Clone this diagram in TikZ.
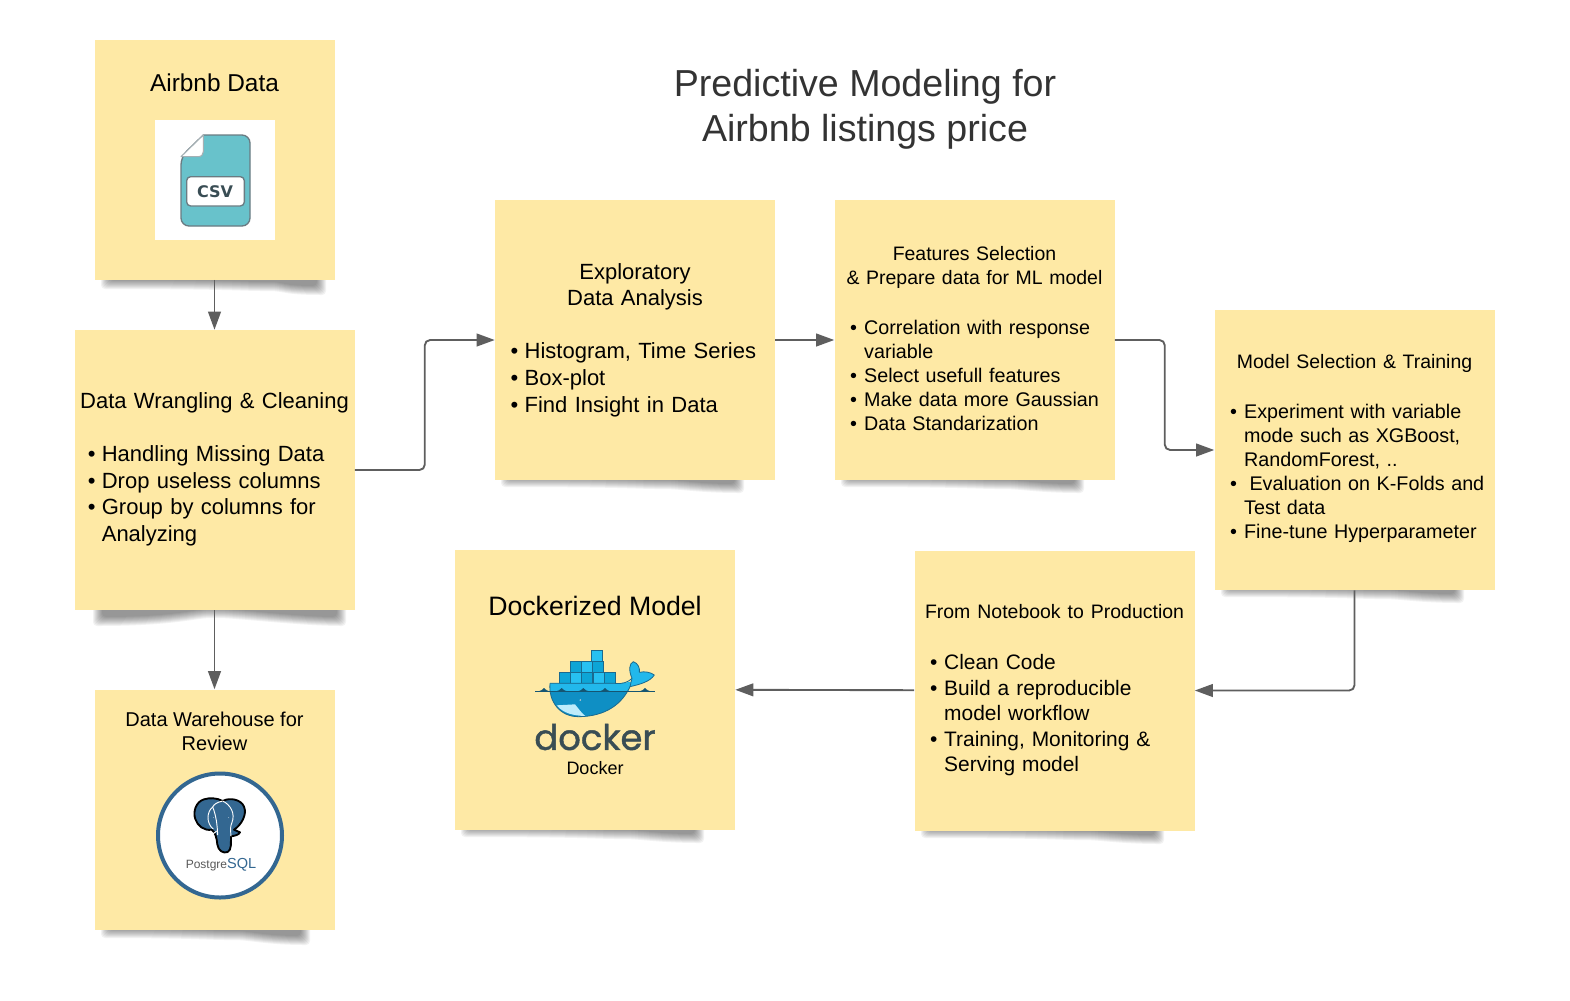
\documentclass[tikz,border=0pt]{standalone}
\usepackage{fontspec}
\setmainfont{Liberation Sans}
\newfontfamily\dockerfont[FakeBold=1.2]{Poppins}
\newfontfamily\csvfont{DejaVu Sans}
\usepackage{tikz}
\usetikzlibrary{arrows.meta}
\definecolor{notefill}{HTML}{FEE9A5}
\definecolor{arrowgrey}{HTML}{5E5E5E}
\definecolor{csvteal}{HTML}{68C2CB}
\definecolor{csvedge}{HTML}{6A7B82}
\definecolor{pgblue}{HTML}{336791}
\definecolor{whaletop}{HTML}{22B8EB}
\definecolor{whalelow}{HTML}{0F8FC4}
\definecolor{whaleedge}{HTML}{1A6A8F}
\definecolor{boxa}{HTML}{0DA5D6}
\definecolor{boxb}{HTML}{27C1F1}
\definecolor{dockertext}{HTML}{394D54}

% Bullet hanging left of the text edge, header centred on the note
\newcommand{\bl}[1]{\leavevmode\llap{\makebox[10.5pt][l]{•}}\mbox{#1}}
\newcommand{\hdr}[1]{\makebox[\linewidth][c]{#1}}
\newcommand{\hdrsmall}[1]{\makebox[\linewidth][c]{\fontsize{14.6}{18}\selectfont #1}}
\newcommand{\lift}[1]{\\[\dimexpr#1-\baselineskip\relax]\mbox{}}

% Soft shadow under a note: bottom, x left, mid, right, depth left, mid, right
\newcommand{\softshadow}[7]{
	\foreach \i in {0,1,...,9}
	\fill[black, opacity=0.05, rounded corners=3]
		({#2+\i-4},#1-3) -- ({#2+\i-4},{#1+#5-\i+4})
		.. controls ({#3-40},{#1+#5-\i+4}) and ({#3-20},{#1+#6-\i+4}) .. ({#3},{#1+#6-\i+4})
		.. controls ({#3+20},{#1+#6-\i+4}) and ({#4-40},{#1+#7-\i+4}) .. ({#4-\i+4},{#1+#7-\i+4})
		-- ({#4-\i+4},#1-3) -- cycle;
}

\begin{document}
\begin{tikzpicture}[
	x=0.75pt, y=-0.75pt,
	stickynote/.style = {fill=notefill, minimum height=210pt, text width=165.5pt, inner xsep=22.25pt, inner ysep=0pt, align=left},
	logonote/.style = {fill=notefill, minimum width=180pt, minimum height=180pt},
	flow/.style = {draw=arrowgrey, line width=1.4pt, rounded corners=4pt, -{Triangle[length=13.5pt, width=9.5pt]}},
	textbig/.style = {font=\fontsize{16.5}{19.9}\selectfont},
	textmid/.style = {font=\fontsize{14.8}{18}\selectfont},
	textprod/.style = {font=\fontsize{15.7}{19.1}\selectfont}
	]
	\useasboundingbox (0,0) rectangle (1570,1000);
	
	% Shadows
	\softshadow{279}{105}{265}{322}{6}{8}{12}
	\softshadow{609}{97}{215}{342}{13}{5}{13}
	\softshadow{929}{105}{230}{306}{5}{7}{12}
	\softshadow{479}{505}{660}{740}{4}{6}{10}
	\softshadow{479}{845}{1000}{1080}{4}{6}{10}
	\softshadow{589}{1225}{1380}{1460}{4}{6}{10}
	\softshadow{829}{465}{620}{700}{4}{6}{10}
	\softshadow{830}{925}{1080}{1160}{4}{6}{10}
	
	% Title
	\node[font=\fontsize{28.2}{33.75}\selectfont, text=black!80, align=center] (title) at (865,109) {Predictive Modeling for\\Airbnb listings price};
	
	% Notes
	\node[logonote] (airbnb) at (214.5,159.5) {};
	\node[stickynote, textbig, inner xsep=20.5pt, text width=169pt] (wrangling) at (214.5,470) {\hdr{Data Wrangling \& Cleaning}\\[\baselineskip]
		\bl{Handling Missing Data}\\
		\bl{Drop useless columns}\\
		\bl{Group by columns for}\\
		Analyzing\lift{4.5pt}};
	\node[logonote] (warehouse) at (214.5,809.5) {};
	\node[stickynote, textbig] (eda) at (635,340) {\hdr{Exploratory}\\\hdr{Data Analysis}\\[\baselineskip]
		\bl{Histogram, Time Series}\\
		\bl{Box-plot}\\
		\bl{Find Insight in Data}};
	\node[stickynote, textmid] (features) at (974.5,340) {\hdrsmall{Features Selection}\\\hdrsmall{\& Prepare data for ML model}\\[19.5pt]
		\bl{Correlation with response}\\
		variable\\
		\bl{Select usefull features}\\
		\bl{Make data more Gaussian}\\
		\bl{Data Standarization}\lift{3pt}};
	\node[stickynote, textmid] (model) at (1354.5,450) {\hdrsmall{Model Selection \& Training}\\[19.5pt]
		\bl{Experiment with variable}\\
		mode such as XGBoost,\\
		RandomForest, ..\\
		\bl{\hspace*{4pt}Evaluation on K-Folds and}\\
		Test data\\
		\bl{Fine-tune Hyperparameter}\lift{4.6pt}};
	\node[stickynote, textprod] (production) at (1054.5,690.5) {\hdrsmall{From Notebook to Production}\\[\baselineskip]
		\bl{Clean Code}\\
		\bl{Build a reproducible}\\
		model workflow\\
		\bl{Training, Monitoring \&}\\
		Serving model};
	\node[stickynote] (dockerized) at (595,689.5) {};
	
	% Titles of the notes with a logo
	\node[font=\fontsize{18.3}{22}\selectfont] (airbnbtitle) at (214.5,83) {Airbnb Data};
	\node[font=\fontsize{15}{18}\selectfont, align=center] (warehousetitle) at (214.5,731) {Data Warehouse for\\Review};
	\node[font=\fontsize{20}{24}\selectfont] (dockeredtitle) at (595,606) {Dockerized Model};
	
	% CSV icon
	\begin{scope}[shift={(90,40)}, scale=1/3]
		\fill[white] (195,240) rectangle (555,600);
		\draw[csvedge, fill=csvteal, line width=1pt, rounded corners=6pt] (340,285) -- (480,285) -- (480,558) -- (273,558) -- (273,350) [sharp corners] -- cycle;
		\draw[csvedge!60, fill=white, line width=0.8pt, line join=round] (340,285) -- (273,350) -- (325,350) .. controls (335,350) and (340,342) .. (340,335) -- cycle;
		\draw[csvedge, fill=white, line width=1pt, rounded corners=3pt] (290,410) rectangle (463,498);
		\node[font=\csvfont\bfseries\fontsize{12}{14}\selectfont, text=dockertext] (csvlabel) at (375,455) {CSV};
	\end{scope}
	
	% PostgreSQL logo
	\draw[pgblue, fill=white, line width=3pt] (220,835.5) circle (62);
	\begin{scope}[shift={(180,795)}, scale=1/3]
		\draw[black, fill=pgblue, line width=1.4pt, line join=round] (72,13) .. controls (48,20) and (38,50) .. (46,72)
			.. controls (52,92) and (72,108) .. (95,104)
			.. controls (106,112) and (110,128) .. (112,148)
			.. controls (115,168) and (130,176) .. (143,171)
			.. controls (156,165) and (152,140) .. (153,124)
			.. controls (165,122) and (176,120) .. (180,112)
			.. controls (174,108) and (168,108) .. (162,104)
			.. controls (184,90) and (202,58) .. (192,35)
			.. controls (184,14) and (150,6) .. (128,18)
			.. controls (110,8) and (88,8) .. (72,13) -- cycle;
		% Ears and trunk
		\draw[white, line width=0.7pt] (98,36) .. controls (80,50) and (78,85) .. (100,102);
		\draw[white, line width=0.7pt] (128,18) .. controls (110,22) and (102,28) .. (98,36) .. controls (108,60) and (112,90) .. (113,120);
		\draw[white, line width=0.7pt] (128,18) .. controls (150,28) and (168,55) .. (155,85) .. controls (150,95) and (152,110) .. (153,124);
		\draw[white, line width=0.7pt] (75,118) .. controls (88,122) and (100,118) .. (110,108);
		\fill[white] (100,68) circle (1.2) (146,68) circle (1.2);
	\end{scope}
	\node[inner sep=0pt, text=black!65, font=\fontsize{9}{10}\selectfont] (pgtext) at (221,865) {Postgre{\fontsize{10.9}{10}\selectfont\color{pgblue}SQL}};
	
	% Docker logo
	\begin{scope}[shift={(530,645)}, scale=1/3]
		% Containers
		\foreach \cx/\cy/\cc in {185/15/boxb,120/50/boxa,154/50/boxb,188/50/boxa,87/83/boxa,121/83/boxb,155/83/boxa,189/83/boxb,223/83/boxa}
		\draw[whaleedge, fill=\cc, line width=0.5pt] (\cx,\cy) rectangle ++(33,33);
		% Body
		\fill[whalelow] (60,115) .. controls (55,170) and (90,215) .. (145,215)
			.. controls (210,215) and (270,190) .. (300,125) -- (300,115) -- cycle;
		\fill[whaletop] (60,115) -- (60,140) -- (292,140) .. controls (300,130) and (303,118) .. (305,110) -- (270,115) -- cycle;
		\draw[whaleedge, line width=0.6pt] (60,115) .. controls (55,170) and (90,215) .. (145,215)
			.. controls (210,215) and (270,190) .. (300,125);
		\draw[whaleedge, line width=0.6pt] (60,115) -- (255,115) .. controls (275,118) and (295,112) .. (306,100);
		% Tail
		\draw[whaleedge, fill=whaletop, line width=0.6pt, line join=round] (306,100) .. controls (295,75) and (298,55) .. (310,50)
			.. controls (325,55) and (330,70) .. (328,82)
			.. controls (345,78) and (362,82) .. (373,90)
			.. controls (360,110) and (330,118) .. (300,125) -- cycle;
		% Water
		\draw[whaleedge!80!black, line width=0.7pt] (15,140) -- (375,140);
		\foreach \wx in {42,95,160,225,345}
		\fill[whaleedge!80!black] (\wx-25,140) .. controls (\wx-8,138) and (\wx-4,134) .. (\wx,129) .. controls (\wx+4,134) and (\wx+8,138) .. (\wx+25,140) -- cycle;
		% Belly and eye
		\fill[white!70!boxb] (80,181) -- (135,178) .. controls (145,190) and (155,205) .. (166,213) .. controls (130,212) and (100,205) .. (80,181) -- cycle;
		\fill[white] (151,165) circle (2.5);
		\fill[whaleedge!60!black] (151,165) circle (1.2);
	\end{scope}
	\node[inner sep=0pt, text=dockertext, font=\dockerfont\fontsize{26.5}{30}\selectfont] (dockerword) at (595,737) {docker};
	\node[inner sep=0pt, font=\fontsize{13.5}{16}\selectfont] (dockerlabel) at (595,768) {Docker};
	
	% Connectors
	\draw[flow] (airbnb) -- (wrangling);
	\draw[flow] (wrangling.east) -- ++(70,0) |- (eda.west);
	\draw[flow] (wrangling) -- (warehouse);
	\draw[flow] (eda) -- (features);
	\draw[flow] (features.east) -- ++(50,0) |- (model.west);
	\draw[flow] (model.south) |- (production.east);
	\draw[flow] (production) -- (dockerized);
	
\end{tikzpicture}
\end{document}
